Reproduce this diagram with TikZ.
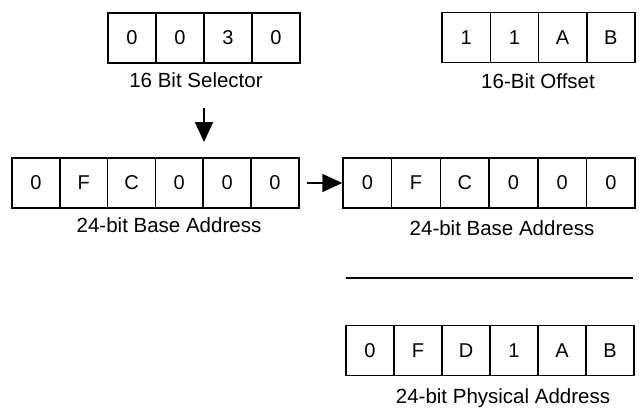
\documentclass[tikz,border=0pt]{standalone}
\usepackage{fontspec}
\setmainfont{Liberation Sans}
\usetikzlibrary{arrows.meta}
\begin{document}
\begin{tikzpicture}[x=1pt,y=1pt,
  cell/.style={draw, line width=1.5pt, minimum width=48pt, minimum height=50pt, inner sep=0pt, font=\fontsize{20}{22}\selectfont},
  lbl/.style={inner sep=0pt, font=\fontsize{20.5}{22}\selectfont},
  conn/.style={line width=1.6pt, -{Triangle[length=20pt,width=18pt]}}]
\useasboundingbox[fill=white] (0,0) rectangle (639,-413);
% 16 bit selector
\foreach \v [count=\i] in {0,0,3,0}
  \node[cell] (s\i) at ({108+48*(\i-0.5)}, -38) {\v};
\node[lbl] (slbl) at (196,-80) {16 Bit Selector};
% 16 bit offset
\foreach \v [count=\i] in {1,1,A,B}
  \node[cell, minimum width=48.25pt] (o\i) at ({442+48.25*(\i-0.5)}, -37.5) {\v};
\node[lbl] (olbl) at (538,-81) {16-Bit Offset};
% left base
\foreach \v [count=\i] in {0,F,C,0,0,0}
  \node[cell, minimum width=47.8pt] (l\i) at ({12+47.8*(\i-0.5)}, -183) {\v};
\node[lbl] (llbl) at (169,-225) {24-bit Base Address};
% right base
\foreach \v [count=\i] in {0,F,C,0,0,0}
  \node[cell, minimum width=48.7pt] (r\i) at ({343+48.7*(\i-0.5)}, -183) {\v};
\node[lbl] (rlbl) at (502,-228) {24-bit Base Address};
% separator
\coordinate (sepa) at (346,-278);
\coordinate (sepb) at (633,-278);
\draw[line width=1.5pt] (sepa) -- (sepb);
% physical
\foreach \v [count=\i] in {0,F,D,1,A,B}
  \node[cell, minimum width=48pt] (p\i) at ({346+48*(\i-0.5)}, -350.5) {\v};
\node[lbl] (plbl) at (503,-398) {24-bit Physical Address};
% arrows
\coordinate (va) at (204,-108);
\coordinate (vb) at (204,-142);
\draw[conn] (va) -- (vb);
\draw[conn] ([xshift=7pt]l6.east) -- (r1.west);
\end{tikzpicture}
\end{document}
